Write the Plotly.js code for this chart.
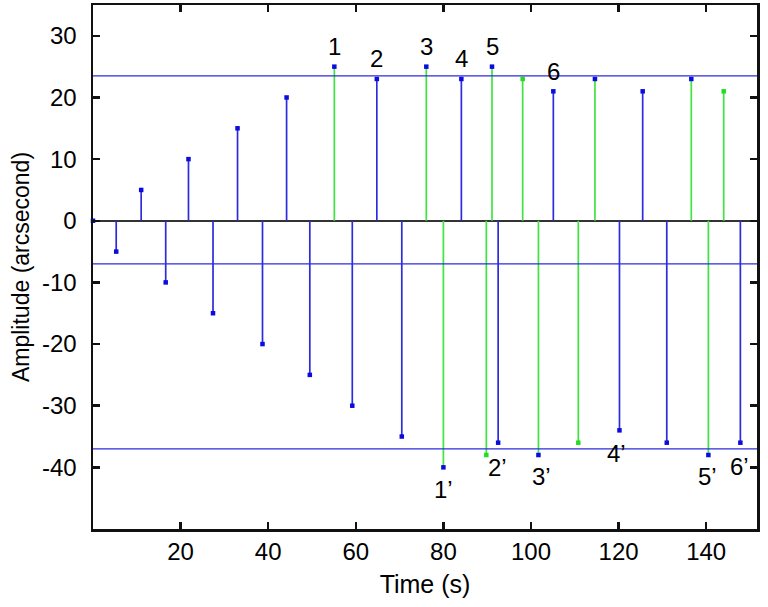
<!DOCTYPE html>
<html>
<head>
<meta charset="utf-8">
<script src="https://cdn.plot.ly/plotly-3.0.1.min.js"></script>
<style>html,body{margin:0;padding:0;background:#fff;}</style>
</head>
<body>
<div id="chart" style="width:768px;height:607px;"></div>
<script>
// ---- data ----
const times = [0, 5.3, 11.0, 16.6, 21.8, 27.4, 33.0, 38.7, 44.2, 49.5, 55.1, 59.2, 64.8, 70.5, 76.1, 80.0,
               84.1, 89.8, 91.1, 92.5, 98.1, 101.7, 105.1, 110.8, 114.6, 120.2, 125.5, 131.0, 136.6, 140.5, 144.0, 147.8];
const amplitudes = [0, -5, 5, -10, 10, -15, 15, -20, 20, -25, 25, -30, 23, -35, 25, -40,
                    23, -38, 25, -36, 23, -38, 21, -36, 23, -34, 21, -36, 23, -38, 21, -36];
// stem colour group: 'b' blue, 'g' green
const stemGroup = ['b','b','b','b','b','b','b','b','b','b','g','b','b','b','g','g',
                   'b','g','g','b','g','g','b','g','g','b','b','b','g','g','g','b'];
// dot colour group
const dotGroup  = ['b','b','b','b','b','b','b','b','b','b','b','b','b','b','b','b',
                   'b','g','b','b','g','b','b','g','b','b','b','b','b','b','g','b'];
const levels = [23.5, -7, -37];
const peakLabels = ['1','2','3','4','5','6'];
const peakIndex = [10, 12, 14, 16, 18, 22];
const troughLabels = ['1\u2019','2\u2019','3\u2019','4\u2019','5\u2019','6\u2019'];
const troughIndex = [15, 17, 21, 25, 29, 31];
const xTicks = [20, 40, 60, 80, 100, 120, 140];
const yTicks = [-40, -30, -20, -10, 0, 10, 20, 30];
const yTickText = ['-40', '-30', '-20', '-10', '0', '10', '20', '30'];

// ---- styling ----
const BLUE = '#2c2cdc';
const GREEN = '#3fe43f';
const DOT_BLUE = '#0b0be0';
const DOT_GREEN = '#22dd22';
const FONT = 'Liberation Sans, Arial, sans-serif';
const troughShift = [[0,-22],[11,-12],[3,-21],[-3,-23],[-1,-21],[-1,-24]];

function stems(group) {
  const x = [], y = [];
  times.forEach((t, i) => {
    if (stemGroup[i] === group) { x.push(t, t, null); y.push(0, amplitudes[i], null); }
  });
  return {x, y, mode: 'lines', type: 'scatter', hoverinfo: 'skip',
          line: {color: group === 'b' ? BLUE : GREEN, width: 1.7}, showlegend: false};
}

const dots = {
  x: times, y: amplitudes, mode: 'markers', type: 'scatter', cliponaxis: false, showlegend: false,
  marker: {symbol: 'square', size: 4.5, color: dotGroup.map(g => g === 'b' ? DOT_BLUE : DOT_GREEN)}
};

const shapes = levels.map(v => ({type: 'line', xref: 'paper', x0: 0, x1: 1, yref: 'y', y0: v, y1: v,
                                 line: {color: BLUE, width: 1.3}}));

const annotations = [];
peakLabels.forEach((txt, k) => {
  const i = peakIndex[k];
  annotations.push({x: times[i], y: amplitudes[i], text: txt, showarrow: false,
                    xanchor: 'center', yanchor: 'middle', yshift: 20,
                    font: {family: FONT, size: 24, color: '#000'}});
});
troughLabels.forEach((txt, k) => {
  const i = troughIndex[k];
  annotations.push({x: times[i], y: amplitudes[i], text: txt, showarrow: false,
                    xanchor: 'center', yanchor: 'middle',
                    xshift: troughShift[k][0], yshift: troughShift[k][1],
                    font: {family: FONT, size: 24, color: '#000'}});
});

const axisCommon = {
  showline: true, linecolor: '#111', linewidth: 2.5, mirror: 'ticks',
  ticks: 'inside', ticklen: 7, tickwidth: 2.5, tickcolor: '#111',
  showgrid: false, tickfont: {family: FONT, size: 24, color: '#000'}
};

const layout = {
  width: 768, height: 607,
  margin: {l: 93, r: 11, t: 5, b: 78},
  paper_bgcolor: '#fff', plot_bgcolor: '#fff',
  font: {family: FONT, color: '#000'},
  xaxis: Object.assign({}, axisCommon, {
    range: [0, 151.6], tickmode: 'array', tickvals: xTicks, zeroline: false,
    title: {text: 'Time (s)', font: {family: FONT, size: 25, color: '#000'}, standoff: 11}
  }),
  yaxis: Object.assign({}, axisCommon, {
    range: [-50, 35], tickmode: 'array', tickvals: yTicks, ticktext: yTickText,
    ticklabelstandoff: 9,
    zeroline: true, zerolinecolor: '#333', zerolinewidth: 2,
    title: {text: 'Amplitude (arcsecond)', font: {family: FONT, size: 23, color: '#000'}, standoff: 6}
  }),
  shapes: shapes,
  annotations: annotations,
  showlegend: false
};

Plotly.newPlot('chart', [stems('b'), stems('g'), dots], layout, {displayModeBar: false, staticPlot: true});
</script>
</body>
</html>
